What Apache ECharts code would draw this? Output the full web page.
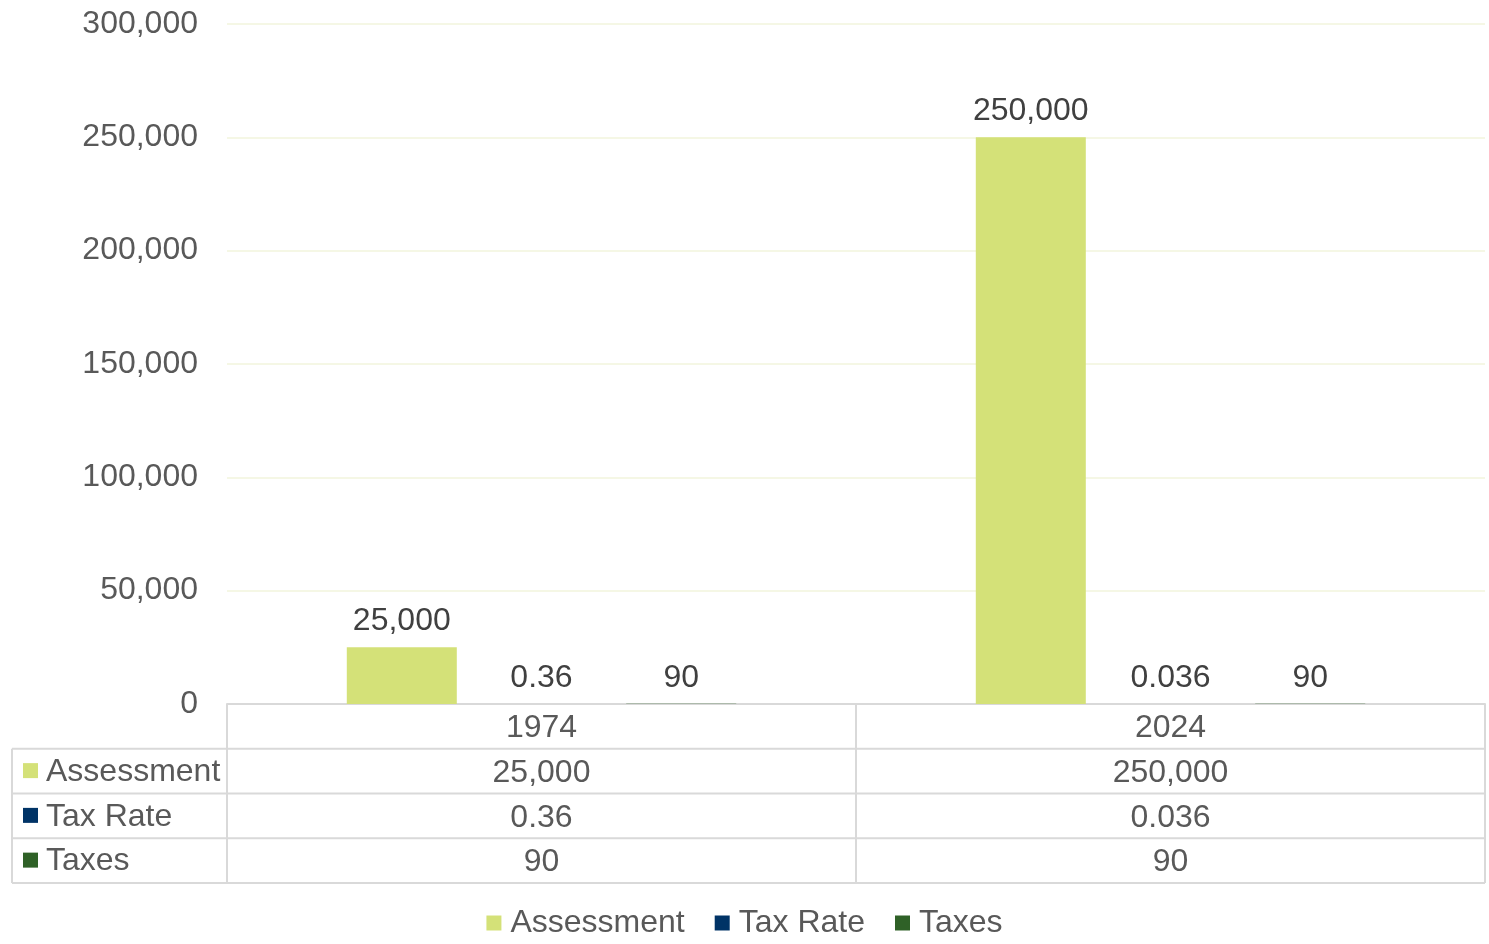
<!DOCTYPE html>
<html><head><meta charset="utf-8">
<script src="https://cdn.jsdelivr.net/npm/echarts@6/dist/echarts.min.js"></script>
<style>html,body{margin:0;padding:0;background:#fff}#c{width:1489px;height:944px}</style>
</head><body><div id="c"></div>
<script>
const categories = ['1974', '2024'];
const seriesNames = ['Assessment', 'Tax Rate', 'Taxes'];
const assessment = [25000, 250000];
const taxRate = [0.36, 0.036];
const taxes = [90, 90];
const yTicks = [0, 50000, 100000, 150000, 200000, 250000, 300000];
const colors = ['#d4e178', '#003366', '#2f6127'];

const fmt = v => v.toLocaleString('en-US', {maximumFractionDigits: 3});
const seriesData = [assessment, taxRate, taxes];

const FONT = 'Liberation Sans, Arial, sans-serif';
const FS = 32;
const gL = 227, gR = 1485, gT = 24, gB = 704;
const rowH = 44.75;
const tableLeft = 12;
const border = '#d9d9d9';

const chart = echarts.init(document.getElementById('c'));

const g = [];
const line = (x1, y1, x2, y2) => g.push({type: 'line', shape: {x1, y1, x2, y2}, style: {stroke: border, lineWidth: 2}, z: 10});
const tBottom = gB + rowH * 4;
line(gL, gB, gL, tBottom);
line(gR, gB, gR, tBottom);
const nCat = categories.length;
for (let i = 1; i < nCat; i++) {
  const x = gL + (gR - gL) * i / nCat;
  line(x, gB, x, tBottom);
}
line(tableLeft, gB + rowH, tableLeft, tBottom);
for (let r = 1; r <= 3; r++) line(tableLeft, gB + rowH * r, gR, gB + rowH * r);
line(tableLeft, tBottom, gR, tBottom);
seriesNames.forEach((n, r) => {
  const cy = gB + rowH * (r + 1) + rowH / 2;
  g.push({type: 'rect', shape: {x: 23, y: cy - 8, width: 15, height: 15}, style: {fill: colors[r]}});
  g.push({type: 'text', style: {x: 46, y: cy + 1, text: n, font: FS + 'px ' + FONT, fill: '#595959', verticalAlign: 'middle'}});
});

chart.setOption({
  animation: false,
  color: colors,
  textStyle: {fontFamily: FONT},
  grid: {left: gL, right: 1489 - gR, top: gT, bottom: 944 - gB, containLabel: false},
  legend: {
    data: seriesNames, bottom: 0, left: 'center', icon: 'rect', itemWidth: 15, itemHeight: 15, itemGap: 30,
    textStyle: {fontSize: FS, color: '#595959', fontFamily: FONT, padding: [0, 0, 0, 4]}
  },
  xAxis: {
    type: 'category', data: categories,
    axisLine: {show: true, lineStyle: {color: border, width: 2}},
    axisTick: {show: false},
    axisLabel: {
      margin: 2, interval: 0,
      formatter: (v, i) => [v, fmt(assessment[i]), fmt(taxRate[i]), fmt(taxes[i])].join('\n'),
      fontSize: FS, lineHeight: rowH, color: '#595959', fontFamily: FONT
    }
  },
  yAxis: {
    type: 'value', min: 0, max: 300000, interval: 50000,
    axisLine: {show: false}, axisTick: {show: false},
    axisLabel: {margin: 29, fontSize: FS, color: '#595959', fontFamily: FONT, padding: [4, 0, 0, 0], formatter: v => fmt(v)},
    splitLine: {lineStyle: {color: '#f2f5dc', width: 1.5}}
  },
  graphic: g,
  series: seriesNames.map((n, i) => ({
    name: n, type: 'bar', data: seriesData[i], barWidth: 110, barGap: '27%',
    label: {show: true, position: 'top', distance: 10, fontSize: FS, color: '#404040', fontFamily: FONT, formatter: p => fmt(p.value)}
  }))
});
</script></body></html>
